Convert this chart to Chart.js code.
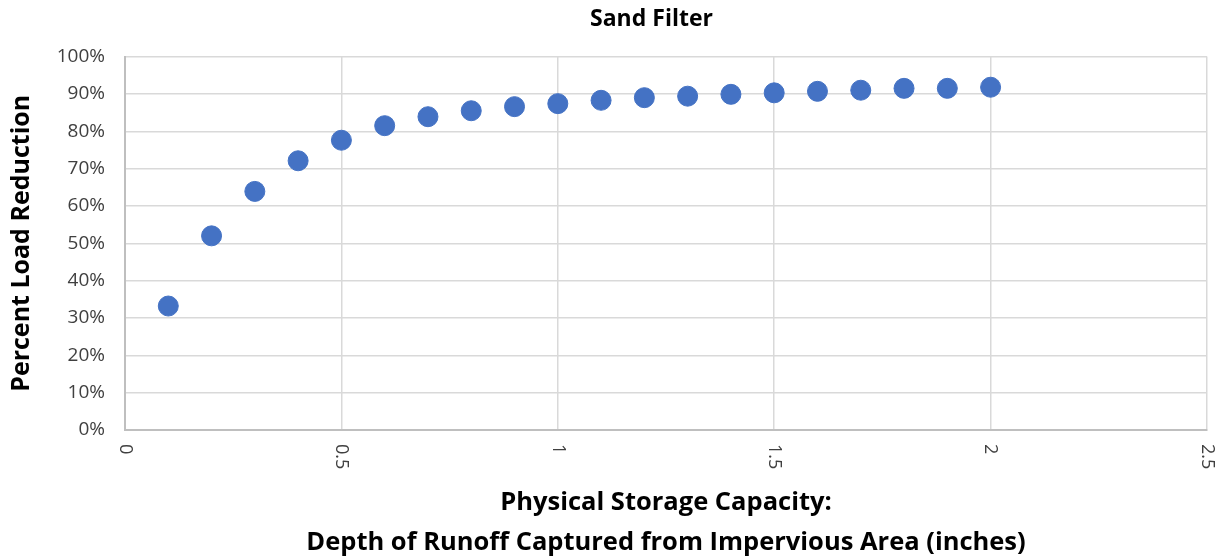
<!DOCTYPE html>
<html>
<head>
<meta charset="utf-8">
<script src="https://cdn.jsdelivr.net/npm/chart.js@4.4.1/dist/chart.umd.min.js"></script>
<style>
    html, body { margin: 0; padding: 0; background: #fff; }
    #wrap { width: 1230px; height: 560px; position: relative; }
</style>
</head>
<body>
<div id="wrap"><canvas id="sandFilterChart"></canvas></div>
<script>
const chartTitle = 'Sand Filter';
const xTitle = ['Physical Storage Capacity:', 'Depth of Runoff Captured from Impervious Area (inches)'];
const yTitle = 'Percent Load Reduction';

// depth captured (inches)
const depthValues = [0.1, 0.2, 0.3, 0.4, 0.5, 0.6, 0.7, 0.8, 0.9, 1.0, 1.1, 1.2, 1.3, 1.4, 1.5, 1.6, 1.7, 1.8, 1.9, 2.0];
// percent load reduction
const reductionValues = [33.2, 52.0, 63.9, 72.1, 77.6, 81.5, 83.9, 85.5, 86.6, 87.4, 88.3, 89.0, 89.4, 89.9, 90.3, 90.7, 91.0, 91.5, 91.5, 91.8];

const theme = {
    point: '#4472C4',
    grid: '#d9d9d9',
    border: '#bfbfbf',
    tick: '#404040',
    title: '#000000'
};

const fontFamily = "'Open Sans', 'Noto Sans', sans-serif";

// x tick labels in the reference read top-to-bottom (rotated clockwise)
const rotatedTicks = {
    id: 'rotatedTicks',
    afterLayout(chart) {
        // reference title sits right of the canvas centre
        if (chart.titleBlock) chart.titleBlock.left = 96;
    },
    afterDraw(chart) {
        const scale = chart.scales.x;
        const ctx = chart.ctx;
        ctx.save();
        ctx.fillStyle = theme.tick;
        ctx.font = `18px ${fontFamily}`;
        ctx.textAlign = 'left';
        ctx.textBaseline = 'middle';
        scale.ticks.forEach((tick) => {
            const x = scale.getPixelForValue(tick.value);
            ctx.save();
            ctx.translate(x, scale.top + 14);
            ctx.rotate(Math.PI / 2);
            ctx.fillText(String(tick.value), 0, 0);
            ctx.restore();
        });
        ctx.restore();
    }
};

const points = depthValues.map((x, i) => ({ x, y: reductionValues[i] }));

new Chart(document.getElementById('sandFilterChart'), {
    type: 'scatter',
    data: {
        datasets: [{
            data: points,
            backgroundColor: theme.point,
            borderColor: theme.point,
            pointRadius: 10,
            pointHoverRadius: 10
        }]
    },
    options: {
        responsive: true,
        maintainAspectRatio: false,
        animation: false,
        layout: { padding: { left: 0, right: 23, top: 0, bottom: 0 } },
        plugins: {
            legend: { display: false },
            tooltip: { enabled: false },
            title: {
                display: true,
                text: chartTitle,
                color: theme.title,
                font: { family: fontFamily, size: 23, weight: 'bold' },
                padding: { top: 6, bottom: 23 }
            }
        },
        scales: {
            x: {
                type: 'linear',
                min: 0,
                max: 2.5,
                afterFit(scale) { scale.height = 130; },
                grid: { color: theme.grid, lineWidth: 1.5, drawTicks: false },
                border: { color: theme.border, width: 2 },
                ticks: {
                    stepSize: 0.5,
                    color: 'rgba(0,0,0,0)',
                    font: { family: fontFamily, size: 18 }
                },
                title: {
                    display: true,
                    text: xTitle,
                    color: theme.title,
                    font: { family: fontFamily, size: 25.5, weight: 'bold', lineHeight: 1.57 },
                    padding: { top: 0, bottom: -3 }
                }
            },
            y: {
                min: 0,
                max: 100,
                afterFit(scale) { scale.width = 125; },
                grid: { color: theme.grid, lineWidth: 1.5, drawTicks: false },
                border: { color: theme.border, width: 2 },
                ticks: {
                    stepSize: 10,
                    padding: 20,
                    color: theme.tick,
                    font: { family: fontFamily, size: 19 },
                    callback: (v) => `${v}%`
                },
                title: {
                    display: true,
                    text: yTitle,
                    color: theme.title,
                    font: { family: fontFamily, size: 25, weight: 'bold' },
                    padding: { top: 7, bottom: 8 }
                }
            }
        }
    },
    plugins: [rotatedTicks]
});
</script>
</body>
</html>
